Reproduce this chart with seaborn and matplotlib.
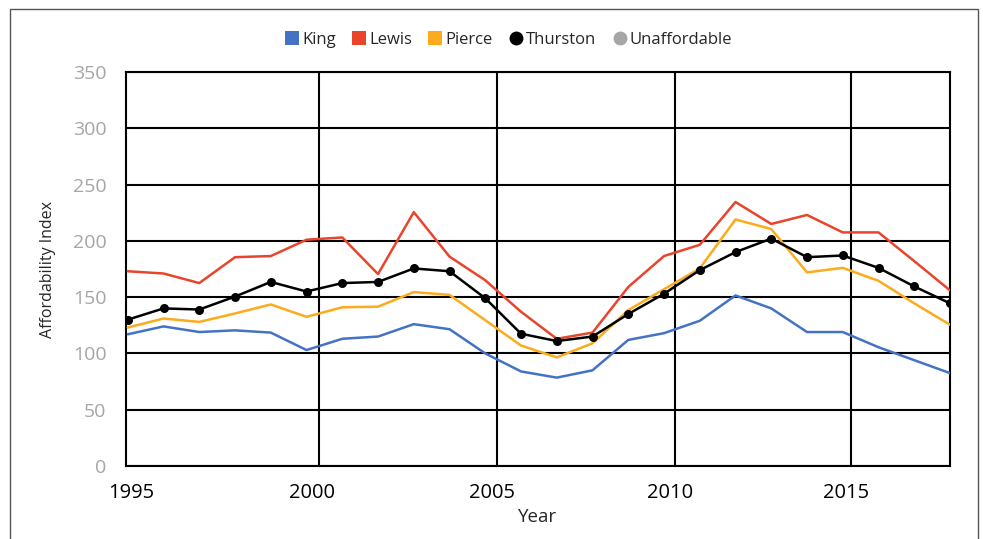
import pandas as pd
import matplotlib.pyplot as plt
import seaborn as sns
from matplotlib.lines import Line2D
from matplotlib.patches import Rectangle

# Data
years = list(range(1995, 2019))
king = [117, 124, 119, 120.5, 118.5, 103, 113, 115, 126, 121.5, 100, 84, 78.5, 85,
        112, 118, 129, 151.5, 140, 119, 119, 105.5, 94, 82.5]
lewis = [173, 171, 162.5, 185.5, 186.5, 201, 203, 170.5, 225.5, 186, 165, 137, 113, 118.5,
         159, 186.5, 196.5, 234.5, 215, 223, 207.5, 207.5, 182, 156]
pierce = [123, 131, 128, 135.5, 143.5, 132.5, 141, 141.5, 154.5, 152, 129.5, 107, 96.5, 109,
          138.5, 157, 175.5, 219, 210.5, 172, 176, 164.5, 144.5, 125.5]
thurston = [130, 140, 139, 150.5, 163.5, 155, 162.5, 163.5, 175.5, 173, 149, 117.5, 111, 115,
            135, 153, 174, 190, 202, 185.5, 187, 176, 159.5, 144.5]

series_names = ["King", "Lewis", "Pierce", "Thurston", "Unaffordable"]
colors = {"King": "#4472c4", "Lewis": "#e8452c", "Pierce": "#fbab1c",
          "Thurston": "#000000", "Unaffordable": "#a6a6a6"}

y_ticks = [0, 50, 100, 150, 200, 250, 300, 350]
x_tick_labels = ["1995", "2000", "2005", "2010", "2015"]
# the original chart's year labels sit a bit off the data years
x_tick_pos = [1995.10, 2000.14, 2005.19, 2010.16, 2015.09]
x_grid_pos = [2000.34, 2005.32, 2010.30, 2015.23]

df = pd.DataFrame({"Year": years, "King": king, "Lewis": lewis,
                   "Pierce": pierce, "Thurston": thurston})
long_df = df.melt(id_vars="Year", var_name="County", value_name="Index")

sns.set_style("white")
plt.rcParams['font.family'] = ['Open Sans', 'DejaVu Sans']

fig = plt.figure(figsize=(9.83, 5.39), dpi=100)
ax = fig.add_axes([126 / 983, 1 - 466 / 539, (950 - 126) / 983, (466 - 72) / 539])

for name in ["King", "Lewis", "Pierce", "Thurston"]:
    sub = long_df[long_df["County"] == name]
    sns.lineplot(data=sub, x="Year", y="Index", ax=ax, color=colors[name],
                 linewidth=1.8, marker="o" if name == "Thurston" else None,
                 markersize=6.5, markeredgewidth=0, legend=False, zorder=3)

ax.set_xlim(1994.95, 2018.0)
ax.set_ylim(0, 350)
ax.set_yticks(y_ticks)
ax.set_xticks(x_tick_pos)
ax.set_xticklabels(x_tick_labels)
ax.yaxis.grid(True, color="black", linewidth=1.5)
ax.xaxis.grid(False)
for xv in x_grid_pos:
    ax.axvline(xv, color="black", linewidth=1.5, zorder=1)
for s in ax.spines.values():
    s.set_visible(True)
    s.set_color("black")
    s.set_linewidth(1.5)

ax.tick_params(axis="y", length=0, pad=14, labelsize=14, labelcolor="#a6a6a6")
ax.tick_params(axis="x", length=0, pad=12, labelsize=14.5, labelcolor="black")
ax.set_xlabel("Year", fontsize=13.5, labelpad=4)
ax.set_ylabel("Affordability Index", fontsize=11.5, labelpad=12)

handles = []
for name in series_names:
    mk = "s" if name in ["King", "Lewis", "Pierce"] else "o"
    handles.append(Line2D([], [], linestyle="none", marker=mk, markersize=10,
                          markerfacecolor=colors[name], markeredgewidth=0))
fig.legend(handles, series_names, loc="center", bbox_to_anchor=(508 / 983, 1 - 40 / 539),
           ncol=5, frameon=False, fontsize=12, handletextpad=0.1, columnspacing=0.9,
           handlelength=1.0)

fig.patches.append(Rectangle((10 / 983, -0.05), 968 / 983, 1.05 - 9 / 539,
                             transform=fig.transFigure, fill=False,
                             edgecolor="#555555", linewidth=1))

fig.savefig("out.png", dpi=100)
